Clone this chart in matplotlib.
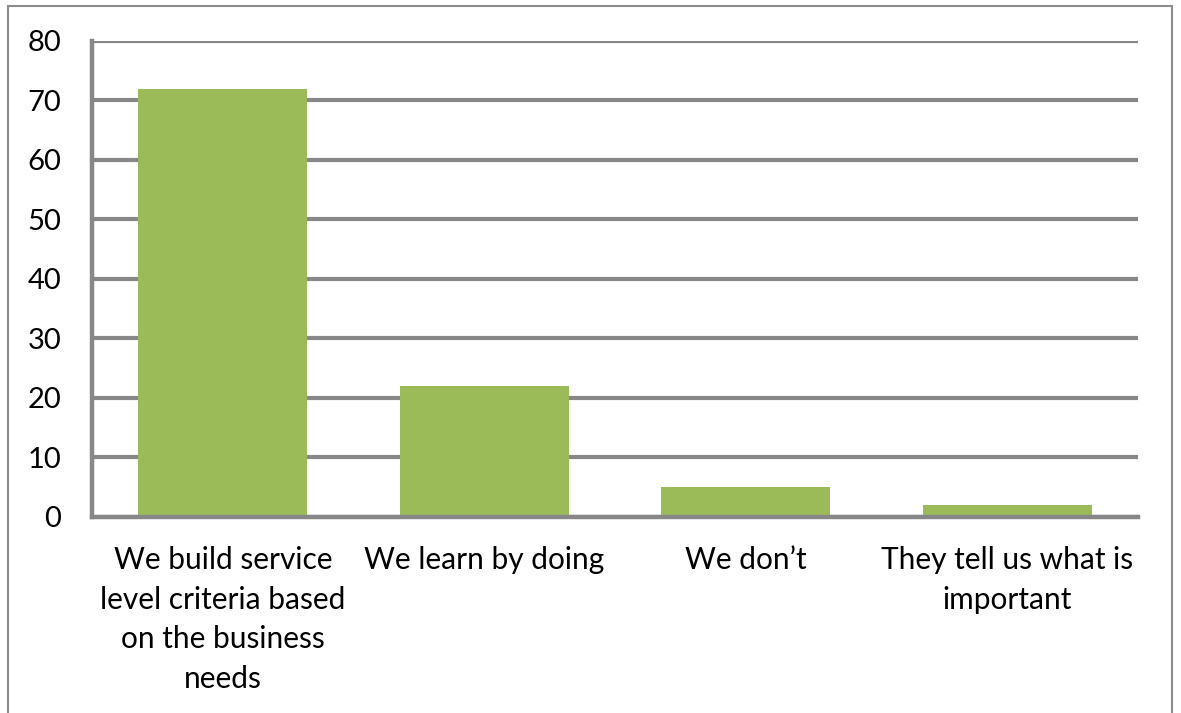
import matplotlib.pyplot as plt
from matplotlib.patches import Rectangle

categories = [
    "We build service\nlevel criteria based\non the business\nneeds",
    "We learn by doing",
    "We don\u2019t",
    "They tell us what is\nimportant",
]
values = [72, 22, 5, 2]
y_ticks = [0, 10, 20, 30, 40, 50, 60, 70, 80]

plt.rcParams["font.family"] = ["Lato", "DejaVu Sans"]

fig = plt.figure(figsize=(11.81, 7.13), dpi=100)
ax = fig.add_axes([0.0779, 0.2749, 0.8857, 0.6676])

grey = "#878787"
ax.bar(range(len(values)), values, width=0.646, color="#9BBB59", zorder=3)

ax.set_xlim(-0.5, len(values) - 0.5)
ax.set_ylim(0, 80)
ax.set_yticks(y_ticks)
ax.set_xticks(range(len(values)))
ax.set_xticklabels(categories, fontsize=21.5, linespacing=1.5)
ax.tick_params(axis="y", labelsize=21, length=0, pad=22)
ax.tick_params(axis="x", length=0, pad=21)
ax.yaxis.grid(True, color=grey, linewidth=3, zorder=1)

for side in ["top", "right"]:
    ax.spines[side].set_visible(False)
for side in ["left", "bottom"]:
    ax.spines[side].set_color(grey)
    ax.spines[side].set_linewidth(3.2)
    ax.spines[side].set_zorder(4)

# chart frame
fig.patches.append(Rectangle((8 / 1181, -0.05), 1164 / 1181, 1.05 - 6 / 713,
                             transform=fig.transFigure, fill=False,
                             edgecolor="#8c8c8c", linewidth=1.5))

fig.savefig("out.png", dpi=100)
